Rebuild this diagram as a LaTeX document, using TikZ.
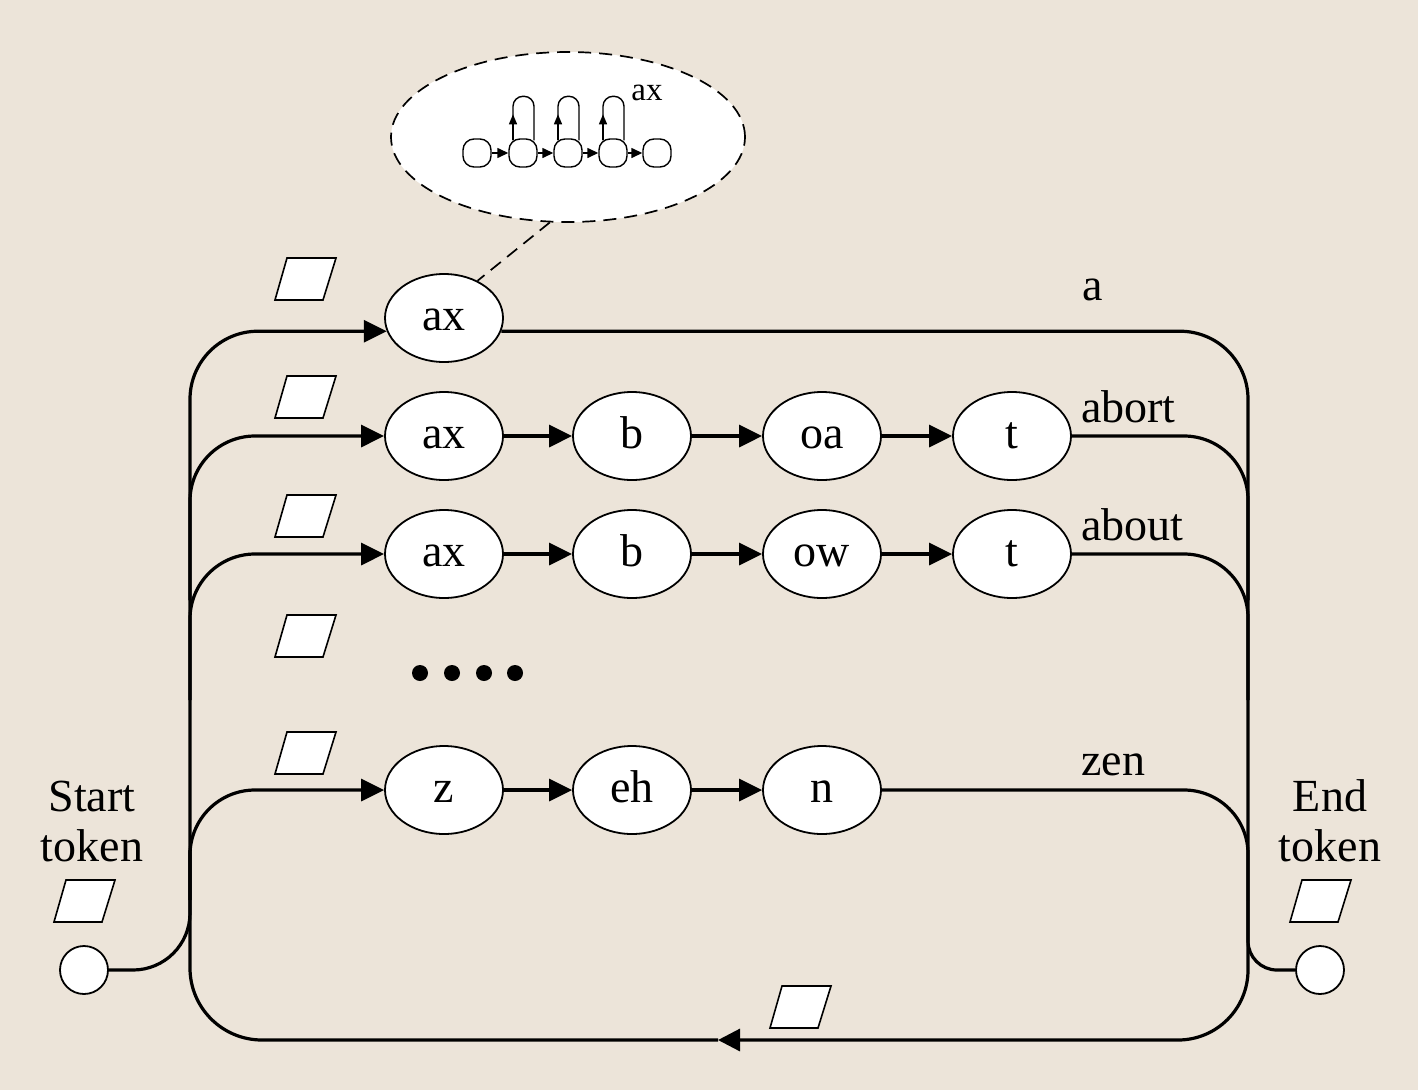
\documentclass[tikz,border=0pt]{standalone}
\usepackage{fontspec}
\setmainfont{Liberation Serif}
\usetikzlibrary{shapes.geometric,arrows.meta}
\definecolor{bgc}{RGB}{236,228,217}
\begin{document}
\begin{tikzpicture}[x=1pt,y=-1pt,
  conn/.style={line width=3.2pt,black},
  arr/.style={-{Triangle[length=23pt,width=22pt]}},
  ph/.style={ellipse,draw,fill=white,line width=1.8pt,minimum width=118pt,minimum height=88pt,inner sep=0pt,text height=24pt,text depth=0pt,font=\fontsize{46}{50}\selectfont},
  tok/.style={circle,draw,fill=white,line width=1.8pt,minimum size=48pt,inner sep=0pt},
  lbl/.style={font=\fontsize{46}{50}\selectfont,inner sep=0pt,anchor=base west},
  hs/.style={rectangle,rounded corners=11pt,draw,fill=white,line width=1.4pt,minimum size=28pt,inner sep=0pt},
  mini/.style={line width=1.4pt},
  miniarr/.style={-{Triangle[length=11pt,width=10pt]}},
  dsh/.style={line width=1.7pt,dash pattern=on 13pt off 8pt},
  para/.pic={\draw[fill=white,line width=1.6pt] (-30,21) -- (18,21) -- (31,-21) -- (-18,-21) -- cycle;},
]
\fill[bgc] (0,0) rectangle (1418,1090);
\useasboundingbox (0,0) rectangle (1418,1090);

% callout
\node[ellipse,draw,dsh,fill=white,minimum width=354pt,minimum height=170pt,inner sep=0pt] (call) at (568,137) {};
\foreach \i/\x in {1/477,2/523,3/568,4/613,5/657}{
  \node[hs] (m\i) at (\x,153) {};
}
\foreach \a/\b in {1/2,2/3,3/4,4/5}{
  \draw[mini,miniarr] (m\a) -- (m\b);
}
\foreach \i in {2,3,4}{
  \draw[mini,rounded corners=10pt] ([xshift=-10pt,yshift=-2pt]m\i.north) -- ++(0,-44) -- ++(21,0) -- ++(0,44);
  \draw[mini,-{Triangle[length=10pt,width=8pt]}] ([xshift=-10pt,yshift=-2pt]m\i.north) -- ++(0,-26);
}
\node[font=\fontsize{33}{35}\selectfont,anchor=base,inner sep=0pt] (axl) at (647,100) {ax};

% phone nodes
\node[ph] (ax1) at (444,318) {ax};
\node[ph] (ax2) at (444,436) {ax};
\node[ph] (b2) at (632,436) {b};
\node[ph] (oa2) at (822,436) {oa};
\node[ph] (t2) at (1012,436) {t};
\node[ph] (ax3) at (444,554) {ax};
\node[ph] (b3) at (632,554) {b};
\node[ph] (ow3) at (822,554) {ow};
\node[ph] (t3) at (1012,554) {t};
\node[ph] (z5) at (444,790) {z};
\node[ph] (eh5) at (632,790) {eh};
\node[ph] (n5) at (822,790) {n};

\draw[dsh] (call.258) -- (ax1.48);

% start / end
\node[tok] (start) at (84,970) {};
\node[tok] (end) at (1320,970) {};
\node[font=\fontsize{46}{50}\selectfont,align=center,inner sep=0pt] (stxt) at (92,821) {Start\\token};
\node[font=\fontsize{46}{50}\selectfont,align=center,inner sep=0pt] (etxt) at (1330,821) {End\\token};

% word labels
\node[lbl] (wa) at (1082,300) {a};
\node[lbl] (wabort) at (1081,422) {abort};
\node[lbl] (wabout) at (1081,540) {about};
\node[lbl] (wzen) at (1081,775) {zen};

% dots
\foreach \x in {420,452,484,515}{
  \fill (\x,673) circle[radius=8pt];
}

% parallelograms
\foreach \p in {(305,279),(305,397),(305,516),(305,636),(305,753),(84,901),(1320,901),(800,1007)}{
  \pic at \p {para};
}

% connectors: left side
\draw[conn,arr,rounded corners=68pt] (190,600) |- (ax1.193);
\draw[conn,arr,rounded corners=65pt] (190,600) |- (ax2);
\draw[conn,arr,rounded corners=65pt] (190,700) |- (ax3);
\draw[conn,arr,rounded corners=65pt] (190,900) |- (z5);
% right side
\draw[conn,rounded corners=68pt] (ax1.-13) -| (1248,600);
\draw[conn,rounded corners=64pt] (t2) -| (1248,600);
\draw[conn,rounded corners=64pt] (t3) -| (1248,700);
\draw[conn,rounded corners=64pt] (n5) -| (1248,900);
% inside rows
\draw[conn,arr] (ax2) -- (b2);
\draw[conn,arr] (b2) -- (oa2);
\draw[conn,arr] (oa2) -- (t2);
\draw[conn,arr] (ax3) -- (b3);
\draw[conn,arr] (b3) -- (ow3);
\draw[conn,arr] (ow3) -- (t3);
\draw[conn,arr] (z5) -- (eh5);
\draw[conn,arr] (eh5) -- (n5);
% bottom loop
\coordinate (tipB) at (718,1040);
\draw[conn,rounded corners=70pt,-{Triangle[length=22pt,width=22pt]}] (1248,600) |- (tipB);
\draw[conn,rounded corners=72pt] (tipB) -| (190,600);
% start / end connectors
\draw[conn,rounded corners=57pt] (start) -| (190,850);
\draw[conn,rounded corners=29pt] (end) -| (1248,900);
\end{tikzpicture}
\end{document}
